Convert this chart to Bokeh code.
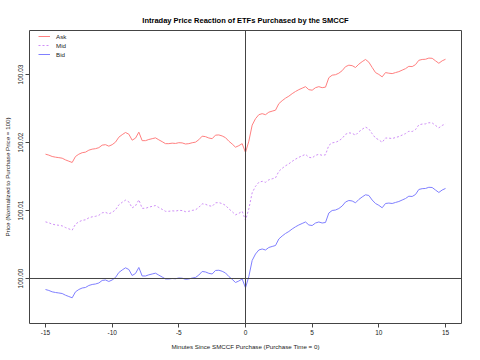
from bokeh.plotting import figure
from bokeh.embed import file_html
from bokeh.resources import INLINE
from bokeh.models import Span, Legend, LegendItem, FixedTicker, NumeralTickFormatter, Range1d
import numpy as np

title_text = "Intraday Price Reaction of ETFs Purchased by the SMCCF"
x_title = "Minutes Since SMCCF Purchase (Purchase Time = 0)"
y_title = "Price (Normalized to Purchase Price = 100)"

minutes = np.arange(-15, 15.001, 0.25)

bid = [99.99838, 99.99824, 99.99804, 99.99794, 99.99787, 99.99779, 99.99754, 99.99735, 99.99716, 99.99804,
       99.99838, 99.99860, 99.99868, 99.99897, 99.99912, 99.99919, 99.99934, 99.99971, 99.99978, 99.99956,
       99.99978, 100.00015, 100.00088, 100.00125, 100.00157, 100.00132, 100.00044, 100.00074, 100.00162, 100.00037,
       100.00037, 100.00054, 100.00066, 100.00078, 100.00049, 100.00022, 99.99993, 99.99993, 100.00000, 99.99996,
       100.00007, 100.00004, 99.99988, 99.99993, 100.00006, 100.00015, 100.00051, 100.00103, 100.00096, 100.00076,
       100.00066, 100.00118, 100.00121, 100.00106, 100.00081, 100.00029, 99.99988, 99.99941, 99.99963, 99.99993,
       99.99863, 100.00029, 100.00265, 100.00360, 100.00419, 100.00434, 100.00419, 100.00456, 100.00471, 100.00485,
       100.00581, 100.00625, 100.00662, 100.00691, 100.00728, 100.00760, 100.00787, 100.00809, 100.00831, 100.00787,
       100.00779, 100.00816, 100.00831, 100.00816, 100.00824, 100.00963, 100.01000, 100.01007, 100.01029, 100.01066,
       100.01125, 100.01147, 100.01140, 100.01113, 100.01162, 100.01199, 100.01231, 100.01221, 100.01154, 100.01103,
       100.01076, 100.01040, 100.01103, 100.01109, 100.01103, 100.01118, 100.01132, 100.01154, 100.01176, 100.01210,
       100.01206, 100.01235, 100.01309, 100.01321, 100.01324, 100.01341, 100.01338, 100.01301, 100.01265, 100.01301,
       100.01324]

ask = [100.01828, 100.01814, 100.01794, 100.01784, 100.01777, 100.01769, 100.01744, 100.01725, 100.01706, 100.01794,
       100.01828, 100.01850, 100.01858, 100.01887, 100.01902, 100.01909, 100.01924, 100.01961, 100.01968, 100.01946,
       100.01968, 100.02005, 100.02078, 100.02115, 100.02147, 100.02122, 100.02034, 100.02064, 100.02152, 100.02027,
       100.02027, 100.02044, 100.02056, 100.02068, 100.02039, 100.02012, 100.01983, 100.01983, 100.01990, 100.01986,
       100.01997, 100.01994, 100.01978, 100.01983, 100.01996, 100.02005, 100.02041, 100.02093, 100.02086, 100.02066,
       100.02056, 100.02108, 100.02111, 100.02096, 100.02071, 100.02019, 100.01978, 100.01931, 100.01953, 100.01983,
       100.01853, 100.02019, 100.02255, 100.02350, 100.02409, 100.02424, 100.02409, 100.02446, 100.02461, 100.02475,
       100.02571, 100.02615, 100.02652, 100.02681, 100.02718, 100.02750, 100.02777, 100.02799, 100.02821, 100.02777,
       100.02769, 100.02806, 100.02821, 100.02806, 100.02814, 100.02953, 100.02990, 100.02997, 100.03019, 100.03056,
       100.03115, 100.03137, 100.03130, 100.03103, 100.03152, 100.03189, 100.03221, 100.03181, 100.03104, 100.03028,
       100.03001, 100.02965, 100.03028, 100.03019, 100.03013, 100.03028, 100.03042, 100.03064, 100.03086, 100.03120,
       100.03116, 100.03145, 100.03209, 100.03221, 100.03224, 100.03241, 100.03238, 100.03201, 100.03165, 100.03201,
       100.03224]

mid = [100.00833, 100.00819, 100.00799, 100.00789, 100.00782, 100.00774, 100.00749, 100.00730, 100.00711, 100.00799,
       100.00833, 100.00855, 100.00863, 100.00892, 100.00907, 100.00914, 100.00929, 100.00966, 100.00973, 100.00951,
       100.00973, 100.01010, 100.01083, 100.01120, 100.01152, 100.01127, 100.01039, 100.01069, 100.01157, 100.01032,
       100.01032, 100.01049, 100.01061, 100.01073, 100.01044, 100.01017, 100.00988, 100.00988, 100.00995, 100.00991,
       100.01002, 100.00999, 100.00983, 100.00988, 100.01001, 100.01010, 100.01046, 100.01098, 100.01091, 100.01071,
       100.01061, 100.01113, 100.01116, 100.01101, 100.01076, 100.01024, 100.00983, 100.00936, 100.00958, 100.00988,
       100.00858, 100.01024, 100.01260, 100.01355, 100.01414, 100.01429, 100.01414, 100.01451, 100.01466, 100.01480,
       100.01576, 100.01620, 100.01657, 100.01686, 100.01723, 100.01755, 100.01782, 100.01804, 100.01826, 100.01782,
       100.01774, 100.01811, 100.01826, 100.01811, 100.01819, 100.01958, 100.01995, 100.02002, 100.02024, 100.02061,
       100.02120, 100.02142, 100.02135, 100.02108, 100.02157, 100.02194, 100.02226, 100.02201, 100.02129, 100.02066,
       100.02039, 100.02003, 100.02066, 100.02064, 100.02058, 100.02073, 100.02087, 100.02109, 100.02131, 100.02165,
       100.02161, 100.02190, 100.02259, 100.02271, 100.02274, 100.02291, 100.02288, 100.02251, 100.02215, 100.02251,
       100.02274]

x_ticks = [-15, -10, -5, 0, 5, 10, 15]
y_ticks = [100.00, 100.01, 100.02, 100.03]

FONT = "Liberation Sans"

p = figure(frame_width=432, frame_height=293, output_backend="svg", toolbar_location=None,
           x_range=Range1d(-16.2, 16.2), y_range=Range1d(99.99338, 100.03647),
           min_border_left=22, min_border_right=8, min_border_top=30, min_border_bottom=26)

p.title.text = title_text
p.title.align = "center"
p.title.text_font = FONT
p.title.text_font_size = "7.5px"
p.title.text_font_style = "bold"
p.title.text_color = "#000000"
p.title.offset = 0
p.title.standoff = 12

p.xgrid.visible = False
p.ygrid.visible = False
p.outline_line_color = "#444444"
p.outline_line_width = 1
p.background_fill_color = "white"
p.border_fill_color = "white"

for ax in (p.xaxis[0], p.yaxis[0]):
    ax.axis_line_color = None
    ax.major_tick_out = 4
    ax.major_tick_in = 0
    ax.minor_tick_line_color = None
    ax.major_tick_line_color = "#444444"
    ax.major_label_text_font = FONT
    ax.major_label_text_font_size = "6.5px"
    ax.major_label_text_color = "#222222"
    ax.axis_label_text_font = FONT
    ax.axis_label_text_font_size = "6.2px"
    ax.axis_label_text_font_style = "normal"
    ax.axis_label_text_color = "#222222"
    ax.major_label_standoff = 2
    ax.axis_label_standoff = 5

p.xaxis[0].ticker = FixedTicker(ticks=x_ticks)
p.xaxis[0].major_label_overrides = {t: str(t) for t in x_ticks}
p.xaxis[0].axis_label = x_title
p.yaxis[0].ticker = FixedTicker(ticks=y_ticks)
p.yaxis[0].formatter = NumeralTickFormatter(format="0.00")
p.yaxis[0].major_label_orientation = "vertical"
p.yaxis[0].axis_label = y_title

p.add_layout(Span(location=100.0, dimension="width", line_color="#444444", line_width=1))
p.add_layout(Span(location=0, dimension="height", line_color="#444444", line_width=1))

r_ask = p.line(minutes, ask, line_color="#ff8080", line_width=1.0)
r_mid = p.line(minutes, mid, line_color="#cf8ff7", line_width=1.0, line_dash="2 2")
r_bid = p.line(minutes, bid, line_color="#8080ff", line_width=1.0)

legend = Legend(items=[LegendItem(label="Ask", renderers=[r_ask]),
                       LegendItem(label="Mid", renderers=[r_mid]),
                       LegendItem(label="Bid", renderers=[r_bid])],
                location=(6, 262), padding=3, margin=0, spacing=1,
                glyph_width=12, glyph_height=8, label_height=8, label_standoff=6,
                label_text_font=FONT, label_text_font_size="6.2px", label_text_color="#222222",
                border_line_alpha=0, background_fill_alpha=0)
p.add_layout(legend, "center")

open("out.html", "w").write(file_html(p, INLINE))
